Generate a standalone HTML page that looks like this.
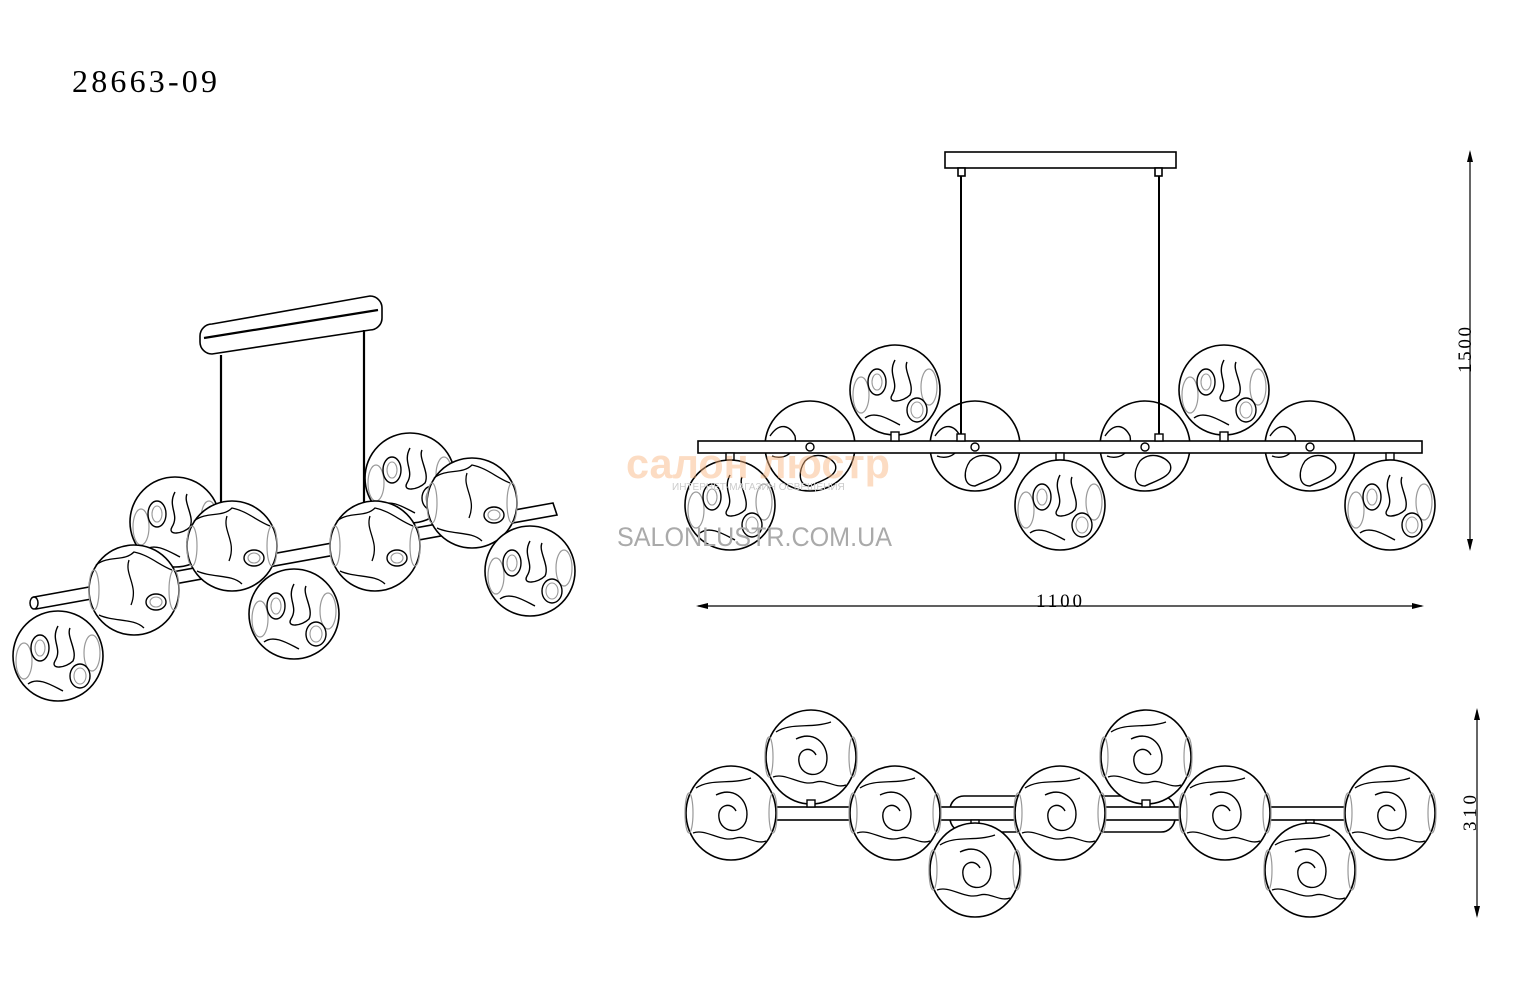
<!DOCTYPE html>
<html><head><meta charset="utf-8"><style>
html,body{margin:0;padding:0;background:#fff;}
svg{display:block;}
</style></head><body>
<svg width="1532" height="985" viewBox="0 0 1532 985" xmlns="http://www.w3.org/2000/svg">
<defs>
<g id="gt">
<circle r="45" fill="#fff" stroke="#000" stroke-width="1.6"/>
<ellipse cx="-34" cy="5" rx="8" ry="18" fill="none" stroke="#999" stroke-width="1.2"/>
<ellipse cx="34" cy="-3" rx="8" ry="18" fill="none" stroke="#999" stroke-width="1.2"/>
<ellipse cx="-18" cy="-8" rx="9" ry="13" fill="none" stroke="#000" stroke-width="1.4"/>
<ellipse cx="-18" cy="-8" rx="5" ry="8" fill="none" stroke="#999" stroke-width="1.1"/>
<ellipse cx="22" cy="20" rx="10" ry="12" fill="none" stroke="#000" stroke-width="1.4"/>
<ellipse cx="22" cy="20" rx="6" ry="8" fill="none" stroke="#999" stroke-width="1.1"/>
<path d="M0,-30 C-8,-15 5,-8 -3,5 C-8,14 8,12 15,5 C20,-5 8,-20 12,-28" fill="none" stroke="#000" stroke-width="1.4"/>
<path d="M-30,28 C-20,20 -5,30 5,35" fill="none" stroke="#000" stroke-width="1.4"/>
</g>
<g id="gc">
<circle r="45" fill="#fff" stroke="#000" stroke-width="1.6"/>
<path d="M-40,-10 C-30,-25 -20,-20 -15,-10 C-12,5 -25,15 -38,10" fill="none" stroke="#000" stroke-width="1.4"/>
<path d="M-5,15 C5,5 20,10 25,18 C30,30 10,35 0,40 C-12,40 -12,25 -5,15" fill="none" stroke="#000" stroke-width="1.4"/>
</g>
<g id="gs">
<ellipse rx="45" ry="47" fill="#fff" stroke="#000" stroke-width="1.6"/>
<ellipse cx="-42" rx="4" ry="20" fill="none" stroke="#999" stroke-width="1.2"/>
<ellipse cx="42" rx="4" ry="20" fill="none" stroke="#999" stroke-width="1.2"/>
<path d="M-15,-18 C5,-28 20,-10 15,8 C10,22 -10,20 -12,5 C-14,-8 0,-12 5,-2" fill="none" stroke="#000" stroke-width="1.4"/>
<path d="M-35,-25 C-20,-35 0,-28 20,-35 M-38,20 C-25,15 -10,30 5,25 C15,22 25,32 35,28" fill="none" stroke="#000" stroke-width="1.3"/>
</g>
<g id="gp">
<circle r="45" fill="#fff" stroke="#000" stroke-width="1.6"/>
<ellipse cx="-40" cy="0" rx="5" ry="20" fill="none" stroke="#999" stroke-width="1.2"/>
<ellipse cx="40" cy="0" rx="5" ry="20" fill="none" stroke="#999" stroke-width="1.2"/>
<path d="M-38,-25 C-25,-35 -10,-28 0,-38 C15,-35 25,-25 38,-20" fill="none" stroke="#000" stroke-width="1.3"/>
<path d="M-5,-30 C-10,-15 5,-5 -3,15" fill="none" stroke="#000" stroke-width="1.3"/>
<ellipse cx="22" cy="12" rx="10" ry="8" fill="none" stroke="#000" stroke-width="1.4"/>
<ellipse cx="22" cy="12" rx="6" ry="5" fill="none" stroke="#999" stroke-width="1.1"/>
<path d="M-35,25 C-20,32 0,28 10,38" fill="none" stroke="#000" stroke-width="1.3"/>
</g>
</defs>

<text x="72" y="92" font-family="Liberation Serif, serif" font-size="32" fill="#000" textLength="145" lengthAdjust="spacing">28663-09</text>

<!-- Perspective view -->
<g stroke="#000" stroke-width="1.6" fill="#fff">
<path d="M212,324 L370,296 A12,12 0 0 1 382,308 L382,318 A12,12 0 0 1 370,330 L212,354 A12,12 0 0 1 200,342 L200,336 A12,12 0 0 1 212,324 Z"/>
<path d="M204,338 L378,310" fill="none" stroke-width="2.2"/>
<line x1="221" y1="355" x2="221" y2="552" stroke-width="2.2"/>
<line x1="364" y1="330" x2="364" y2="545" stroke-width="2.2"/>
</g>
<use href="#gt" x="175" y="522"/>
<use href="#gt" x="410" y="478"/>
<path d="M34,597 L553,503 L557,515 L36,609 Z" fill="#fff" stroke="#000" stroke-width="1.6"/>
<ellipse cx="34" cy="603" rx="4" ry="6" fill="#fff" stroke="#000" stroke-width="1.5"/>
<use href="#gt" x="58" y="656"/>
<use href="#gp" x="134" y="590"/>
<use href="#gp" x="232" y="546"/>
<use href="#gt" x="294" y="614"/>
<use href="#gp" x="375" y="546"/>
<use href="#gp" x="472" y="503"/>
<use href="#gt" x="530" y="571"/>

<!-- Front view -->
<g stroke="#000" stroke-width="1.6" fill="#fff">
<rect x="945" y="152" width="231" height="16"/>
<rect x="958" y="168" width="7" height="8"/>
<rect x="1155" y="168" width="7" height="8"/>
</g>
<use href="#gt" x="895" y="390"/>
<use href="#gt" x="1224" y="390"/>
<use href="#gc" x="810" y="446"/>
<use href="#gc" x="975" y="446"/>
<use href="#gc" x="1145" y="446"/>
<use href="#gc" x="1310" y="446"/>
<g stroke="#000" stroke-width="2">
<line x1="961" y1="176" x2="961" y2="441"/>
<line x1="1159" y1="176" x2="1159" y2="441"/>
</g>
<rect x="698" y="441" width="724" height="12" fill="#fff" stroke="#000" stroke-width="1.6"/>
<g fill="#fff" stroke="#000" stroke-width="1.4">
<circle cx="810" cy="447" r="4"/><circle cx="975" cy="447" r="4"/><circle cx="1145" cy="447" r="4"/><circle cx="1310" cy="447" r="4"/>
<rect x="891" y="432" width="8" height="9"/><rect x="1220" y="432" width="8" height="9"/>
<rect x="957" y="434" width="8" height="7"/><rect x="1155" y="434" width="8" height="7"/>
<rect x="726" y="453" width="8" height="7"/><rect x="1056" y="453" width="8" height="7"/><rect x="1386" y="453" width="8" height="7"/>
</g>
<use href="#gt" x="730" y="505"/>
<use href="#gt" x="1060" y="505"/>
<use href="#gt" x="1390" y="505"/>

<!-- watermark -->
<text x="626" y="478" font-family="Liberation Sans, DejaVu Sans, sans-serif" font-size="42" font-weight="bold" fill="#f9b27a" fill-opacity="0.45" textLength="264" lengthAdjust="spacingAndGlyphs">салон люстр</text>
<text x="672" y="490" font-family="Liberation Sans, sans-serif" font-size="10" fill="#ccc">ИНТЕРНЕТ-МАГАЗИН ОСВЕЩЕНИЯ</text>
<text x="617" y="546" font-family="Liberation Sans, sans-serif" font-size="27" fill="#aaa" textLength="275" lengthAdjust="spacingAndGlyphs">SALONLUSTR.COM.UA</text>

<!-- dimensions -->
<g stroke="#000" stroke-width="1.2">
<line x1="1470" y1="152" x2="1470" y2="549"/>
<line x1="698" y1="606" x2="1422" y2="606"/>
<line x1="1477" y1="710" x2="1477" y2="916"/>
</g>
<g fill="#000">
<path d="M1470,150 L1467,162 L1473,162 Z"/><path d="M1470,551 L1467,539 L1473,539 Z"/>
<path d="M696,606 L708,603 L708,609 Z"/><path d="M1424,606 L1412,603 L1412,609 Z"/>
<path d="M1477,708 L1474,720 L1480,720 Z"/><path d="M1477,918 L1474,906 L1480,906 Z"/>
</g>
<text x="1036" y="607" font-family="Liberation Serif, serif" font-size="19" textLength="46" lengthAdjust="spacing">1100</text>
<text transform="translate(1471,373) rotate(-90)" font-family="Liberation Serif, serif" font-size="19" textLength="46" lengthAdjust="spacing">1500</text>
<text transform="translate(1476,831) rotate(-90)" font-family="Liberation Serif, serif" font-size="19" textLength="36" lengthAdjust="spacing">310</text>

<!-- Top view -->
<rect x="950" y="796" width="225" height="36" rx="14" fill="#fff" stroke="#000" stroke-width="1.6"/>
<use href="#gs" x="811" y="757"/>
<use href="#gs" x="1146" y="757"/>
<rect x="760" y="807" width="592" height="13" fill="#fff" stroke="#000" stroke-width="1.6"/>
<g fill="#fff" stroke="#000" stroke-width="1.4">
<rect x="807" y="800" width="8" height="7"/><rect x="1142" y="800" width="8" height="7"/>
<rect x="971" y="820" width="8" height="7"/><rect x="1306" y="820" width="8" height="7"/>
</g>
<use href="#gs" x="731" y="813"/>
<use href="#gs" x="895" y="813"/>
<use href="#gs" x="1060" y="813"/>
<use href="#gs" x="1225" y="813"/>
<use href="#gs" x="1390" y="813"/>
<use href="#gs" x="975" y="870"/>
<use href="#gs" x="1310" y="870"/>
</svg>
</body></html>
